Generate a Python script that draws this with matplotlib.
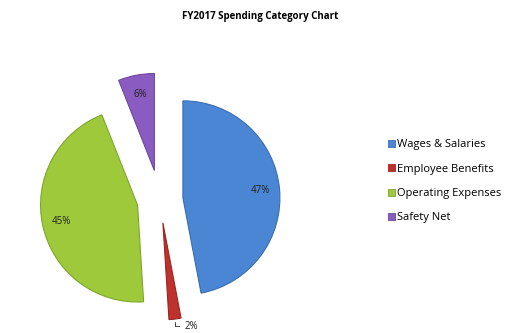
import numpy as np
import matplotlib
matplotlib.use("Agg")
from matplotlib import pyplot as plt
from matplotlib.patches import Patch

# data
categories = ["Wages & Salaries", "Employee Benefits", "Operating Expenses", "Safety Net"]
shares = [47, 2, 45, 6]
colors = ["#4A86D4", "#C0302C", "#9DC93A", "#8A5BC0"]
edges = ["#3A6DB0", "#9A2522", "#7FA62C", "#6E479E"]
title = "FY2017 Spending Category Chart"

plt.rcParams['font.family'] = ['Open Sans', 'DejaVu Sans']

fig = plt.figure(figsize=(5.2, 3.33), dpi=100)
ax = fig.add_axes([0, 0, 1, 1])

R = 97
wedges, texts, autotexts = ax.pie(
    shares, colors=colors, startangle=90, counterclock=False,
    center=(160, 133), radius=R, explode=[23, 23, 23, 30],
    autopct='%d%%', pctdistance=0.8, frame=True,
    wedgeprops=dict(linewidth=0.8),
    textprops=dict(fontsize=7, color='#222222'))
ax.set_xlim(0, 520)
ax.set_ylim(0, 333)
ax.set_aspect('equal')
ax.axis('off')

for w, ec in zip(wedges, edges):
    w.set_edgecolor(ec)

# small slice label goes outside with a leader line
w = wedges[1]
autotexts[1].set_visible(False)
tm = np.deg2rad((w.theta1 + w.theta2) / 2)
cx, cy = w.center
tip = (cx + R * np.cos(tm), cy + R * np.sin(tm))
ax.annotate("%d%%" % shares[1], xy=tip, xytext=(tip[0] + 10, tip[1] - 7),
            fontsize=7, color='#222222', va='center', ha='left',
            arrowprops=dict(arrowstyle='-', color='#222222', lw=0.6,
                            connectionstyle='angle,angleA=0,angleB=90,rad=0'))

fig.text(0.5, 1 - 17 / 333, title, ha='center', va='center',
         fontsize=7, fontweight='bold')

handles = [Patch(facecolor=c, edgecolor=e, linewidth=0.6) for c, e in zip(colors, edges)]
ax.legend(handles, categories, loc='center left', bbox_to_anchor=(378 / 520, 0.455),
          bbox_transform=fig.transFigure, frameon=False, fontsize=8,
          handlelength=0.6, handleheight=0.6, handletextpad=0.25,
          labelspacing=1.2)

fig.savefig("out.png", dpi=100)
